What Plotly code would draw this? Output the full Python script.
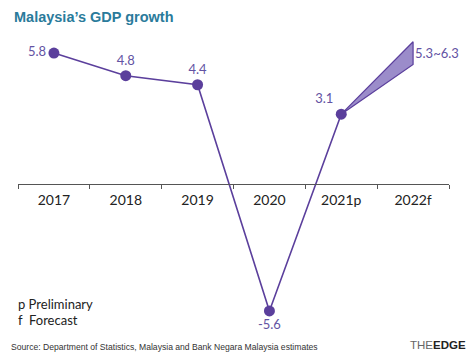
import plotly.graph_objects as go

years = ["2017", "2018", "2019", "2020", "2021p"]
growth = [5.8, 4.8, 4.4, -5.6, 3.1]
all_cats = ["2017", "2018", "2019", "2020", "2021p", "2022f"]
forecast_cat = "2022f"
forecast_low = 5.3
forecast_high = 6.3
labels = ["5.8", "4.8", "4.4", "-5.6", "3.1"]
label_pos = ["middle left", "top center", "top center", "bottom center", "top left"]

purple = "#5b3f9c"
wedge = "#9b8cca"
label_col = "#6353a3"

fig = go.Figure()

# Forecast wedge
fig.add_trace(go.Scatter(
    x=[years[-1], forecast_cat, forecast_cat, years[-1]],
    y=[growth[-1], forecast_high, forecast_low, growth[-1]],
    mode="lines", fill="toself", fillcolor=wedge,
    line=dict(color=purple, width=1.2), hoverinfo="skip", showlegend=False,
))

fig.add_trace(go.Scatter(
    x=years, y=growth, mode="lines+markers+text",
    line=dict(color=purple, width=1.6),
    marker=dict(color=purple, size=11),
    text=labels, textposition=label_pos,
    textfont=dict(family="Lato", size=13, color=label_col),
    cliponaxis=False, showlegend=False, hoverinfo="skip",
))

fig.add_annotation(x=forecast_cat, y=(forecast_low + forecast_high) / 2,
                   text=f"{forecast_low}~{forecast_high}", showarrow=False,
                   xanchor="left", xshift=0,
                   font=dict(family="Lato", size=13, color=label_col))

fig.update_layout(
    width=474, height=360,
    margin=dict(l=18, r=25, t=35, b=40, autoexpand=False),
    plot_bgcolor="white", paper_bgcolor="white",
    xaxis=dict(type="category", categoryorder="array", categoryarray=all_cats,
               range=[-0.5, 5.5], anchor="free", position=6 / 12.6, automargin=False,
               showline=True, linecolor="#555", linewidth=1,
               tickson="boundaries", ticks="outside", ticklen=4, tickcolor="#555",
               showgrid=False, tickfont=dict(family="Lato", size=14, color="#222"),
               ticklabelstandoff=3, fixedrange=True),
    yaxis=dict(range=[-6, 6.6], visible=False, showgrid=False, zeroline=False,
               automargin=False, fixedrange=True),
    font=dict(family="Lato"),
)

fig.add_annotation(xref="paper", yref="paper", x=-6/431, y=1 + 18/285,
                   text="<b>Malaysia’s GDP growth</b>", showarrow=False,
                   xanchor="left", yanchor="middle",
                   font=dict(family="Liberation Sans", size=14.5, color="#2a7b9b"))

fig.add_annotation(xref="paper", yref="paper", x=-2/431, y=(360 - 40 - 304) / 285,
                   text="p Preliminary", showarrow=False, align="left",
                   xanchor="left", yanchor="middle",
                   font=dict(family="Lato", size=13, color="#222"))
fig.add_annotation(xref="paper", yref="paper", x=-2/431, y=(360 - 40 - 320) / 285,
                   text="f  Forecast", showarrow=False, align="left",
                   xanchor="left", yanchor="middle",
                   font=dict(family="Lato", size=13, color="#222"))

fig.add_annotation(xref="paper", yref="paper", x=-9/431, y=-(347 - 320) / 285,
                   text="Source: Department of Statistics, Malaysia and Bank Negara Malaysia estimates",
                   showarrow=False, xanchor="left", yanchor="middle",
                   font=dict(family="Liberation Sans", size=8.6, color="#333"))

fig.add_annotation(xref="paper", yref="paper", x=(468 - 18) / 431, y=-(345 - 320) / 285,
                   text="<span style='color:#666'>THE</span><b>EDGE</b>",
                   showarrow=False, xanchor="right", yanchor="middle",
                   font=dict(family="Liberation Sans", size=11.5, color="#222"))

fig.write_html("out.html", config={"displayModeBar": False, "staticPlot": True},
               post_script="document.body.style.margin='0';document.body.style.overflow='hidden';")
